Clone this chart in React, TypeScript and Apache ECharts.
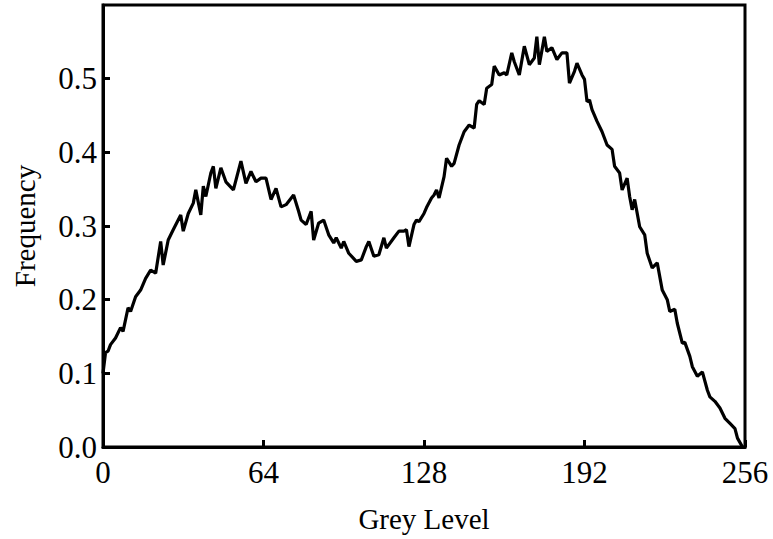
import React, { useEffect, useRef } from "react";
import * as echarts from "echarts";

const greyLevels = [
  0, 1, 2, 3, 5, 7, 8, 10, 11, 13, 15, 17, 19, 21, 23, 24, 26, 28, 31, 32, 34, 36, 37, 39, 40, 41, 43, 44, 45, 47,
  49, 52, 55, 57, 59, 61, 63, 65, 67, 69, 71, 73, 76, 78, 79, 81, 83, 84, 86, 88, 90, 92, 93, 95, 96, 98, 101, 103,
  105, 106, 108, 110, 112, 113, 116, 118, 120, 121, 122, 124, 125, 126, 128, 129, 131, 132, 133, 134, 136, 137, 139,
  140, 142, 144, 146, 148, 149, 150, 152, 153, 155, 156, 158, 160, 161, 163, 164, 166, 168, 170, 172, 173, 174, 176,
  177, 179, 181, 183, 185, 186, 188, 189, 191, 192, 193, 194, 195, 197, 199, 201, 203, 204, 206, 207, 209, 210, 211,
  212, 214, 216, 217, 219, 221, 223, 225, 226, 228, 229, 231, 232, 234, 235, 237, 239, 241, 242, 244, 246, 248, 250,
  252, 253, 255,
];

const frequencies = [
  0.1, 0.128, 0.13, 0.139, 0.148, 0.162, 0.157, 0.189, 0.184, 0.204, 0.213, 0.229, 0.24, 0.236, 0.279, 0.247, 0.281,
  0.295, 0.315, 0.293, 0.317, 0.331, 0.349, 0.315, 0.354, 0.34, 0.372, 0.381, 0.351, 0.379, 0.36, 0.349, 0.388, 0.358,
  0.374, 0.36, 0.365, 0.365, 0.336, 0.351, 0.326, 0.329, 0.342, 0.32, 0.308, 0.302, 0.32, 0.281, 0.304, 0.308, 0.288,
  0.277, 0.284, 0.27, 0.279, 0.263, 0.252, 0.254, 0.272, 0.279, 0.259, 0.261, 0.284, 0.27, 0.284, 0.293, 0.293, 0.295,
  0.272, 0.302, 0.308, 0.306, 0.317, 0.325, 0.338, 0.342, 0.349, 0.338, 0.367, 0.392, 0.381, 0.385, 0.41, 0.428, 0.437,
  0.433, 0.465, 0.47, 0.465, 0.487, 0.492, 0.517, 0.505, 0.508, 0.505, 0.535, 0.523, 0.505, 0.544, 0.519, 0.528, 0.557,
  0.519, 0.557, 0.537, 0.542, 0.526, 0.535, 0.535, 0.494, 0.51, 0.521, 0.505, 0.499, 0.469, 0.471, 0.458, 0.442, 0.428,
  0.41, 0.404, 0.381, 0.372, 0.349, 0.365, 0.34, 0.322, 0.336, 0.299, 0.288, 0.263, 0.243, 0.25, 0.213, 0.2, 0.184,
  0.187, 0.168, 0.141, 0.142, 0.123, 0.109, 0.096, 0.102, 0.077, 0.068, 0.062, 0.053, 0.039, 0.032, 0.025, 0.012, 0.0,
];

const xTicks = { min: 0, max: 256, interval: 64 };
const yTicks = { min: 0, max: 0.6, interval: 0.1 };

const FONT = "'Liberation Serif', 'DejaVu Serif', serif";

export default function App() {
  const ref = useRef<HTMLDivElement>(null);

  useEffect(() => {
    if (!ref.current) return;
    const chart = echarts.init(ref.current, null, { renderer: "svg" });
    const data = greyLevels.map((g, i) => [g, frequencies[i]]);
    chart.setOption({
      animation: false,
      backgroundColor: "#fff",
      grid: {
        left: 103,
        right: 28,
        top: 5,
        bottom: 92,
        show: true,
        borderColor: "#000",
        borderWidth: 3,
      },
      xAxis: {
        type: "value",
        min: xTicks.min,
        max: xTicks.max,
        interval: xTicks.interval,
        name: "Grey Level",
        nameLocation: "middle",
        nameGap: 57,
        nameTextStyle: { fontFamily: FONT, fontSize: 29, color: "#000" },
        axisLine: { show: true, lineStyle: { color: "#000", width: 3 } },
        axisTick: { show: true, inside: true, length: 7, lineStyle: { color: "#000", width: 3 } },
        axisLabel: { fontFamily: FONT, fontSize: 31, color: "#000", margin: 10 },
        splitLine: { show: false },
      },
      yAxis: {
        type: "value",
        min: yTicks.min,
        max: yTicks.max,
        interval: yTicks.interval,
        name: "Frequency",
        nameLocation: "middle",
        nameGap: 64,
        nameTextStyle: { fontFamily: FONT, fontSize: 29, color: "#000" },
        axisLine: { show: true, lineStyle: { color: "#000", width: 3 } },
        axisTick: { show: true, inside: true, length: 7, lineStyle: { color: "#000", width: 3 } },
        axisLabel: {
          fontFamily: FONT,
          fontSize: 31,
          color: "#000",
          margin: 6,
          showMaxLabel: false,
          formatter: (v: number) => (v >= 0.59 ? "" : v.toFixed(1)),
        },
        splitLine: { show: false },
      },
      series: [
        {
          type: "line",
          data,
          showSymbol: false,
          symbol: "none",
          lineStyle: { color: "#000", width: 3.2 },
          clip: false,
        },
      ],
    });
    return () => chart.dispose();
  }, []);

  return (
    <div
      ref={ref}
      style={{ position: "fixed", left: 0, top: 0, width: 773, height: 539, background: "#fff" }}
    />
  );
}
